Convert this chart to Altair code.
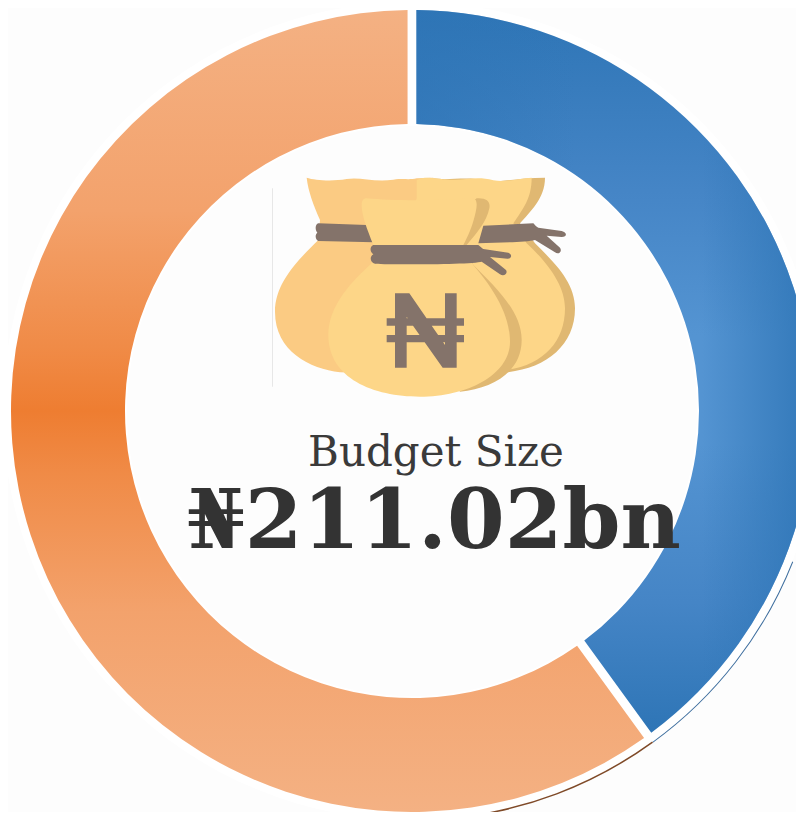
import math
import altair as alt
import pandas as pd

# --- values ---
segments = ["Blue share", "Orange share"]
starts = [0, 40]
ends = [40, 100]
edge_starts = [31, 40]      # thin offset edge lines
edge_ends = [40, 48.5]
title_text = ["Budget Size"]
amount_text = ["\u20a6211.02bn"]

CX, CY = 404, 403
R_OUT, R_IN = 401, 287
SERIF = "DejaVu Serif"

theta_scale = alt.Scale(domain=[0, 100], range=[0, 2 * math.pi])
seg = pd.DataFrame({"segment": segments, "start": starts, "end": ends})
edge = pd.DataFrame({"start": edge_starts, "end": edge_ends})
one = pd.DataFrame({"a": [0], "b": [100]})


def arc_enc(chart, a="start", b="end"):
    return chart.encode(
        x=alt.value(CX), y=alt.value(CY),
        theta=alt.Theta(f"{a}:Q", scale=theta_scale),
        theta2=alt.Theta2(f"{b}:Q"),
    )


blue_grad = alt.LinearGradient(
    gradient="linear", x1=0, x2=0, y1=0, y2=1,
    stops=[alt.GradientStop(color="#2e75b6", offset=0),
           alt.GradientStop(color="#4585c6", offset=0.25),
           alt.GradientStop(color="#5494d2", offset=0.45),
           alt.GradientStop(color="#5494d2", offset=0.6),
           alt.GradientStop(color="#4585c6", offset=0.82),
           alt.GradientStop(color="#2e75b6", offset=1)],
)
blue_side = alt.LinearGradient(
    gradient="linear", x1=0, x2=1, y1=0, y2=0,
    stops=[alt.GradientStop(color="rgba(46,117,182,0.6)", offset=0),
           alt.GradientStop(color="rgba(46,117,182,0)", offset=0.4),
           alt.GradientStop(color="rgba(46,117,182,0)", offset=0.72),
           alt.GradientStop(color="rgba(46,117,182,0.9)", offset=1)],
)
orange_grad = alt.LinearGradient(
    gradient="linear", x1=0, x2=0, y1=0, y2=1,
    stops=[alt.GradientStop(color="#f4b183", offset=0),
           alt.GradientStop(color="#f3a26c", offset=0.25),
           alt.GradientStop(color="#f08b47", offset=0.42),
           alt.GradientStop(color="#ee7d31", offset=0.5),
           alt.GradientStop(color="#f08b47", offset=0.58),
           alt.GradientStop(color="#f3a26c", offset=0.75),
           alt.GradientStop(color="#f4b183", offset=1)],
)

halo = arc_enc(alt.Chart(one).mark_arc(radius=409, radius2=R_IN - 2, color="#ffffff"), "a", "b")
edge_blue = arc_enc(alt.Chart(edge.iloc[[0]]).mark_arc(radius=410, radius2=409, color="#3f6f9f"))
edge_brown = arc_enc(alt.Chart(edge.iloc[[1]]).mark_arc(radius=410, radius2=408.5, color="#7f4a28"))
blue = arc_enc(alt.Chart(seg.iloc[[0]]).mark_arc(radius=R_OUT, radius2=R_IN, padAngle=0.018, fill=blue_grad))
blue_over = arc_enc(alt.Chart(seg.iloc[[0]]).mark_arc(radius=R_OUT, radius2=R_IN, padAngle=0.018, fill=blue_side))
orange = arc_enc(alt.Chart(seg.iloc[[1]]).mark_arc(radius=R_OUT, radius2=R_IN, padAngle=0.018, fill=orange_grad))

# --- money-bag icon: glyph outlines as custom point shapes ---
BAG_LIGHT, BAG_SIDE, BAG_LEFT, ROPE = "#fdd688", "#e0b872", "#fbcb83", "#84736a"
icon = [
    ("M36 70 L38 70 L38 665 L36 665 Z", "#dddddd"),
    ("M140 38 C165 46 215 50 260 42 C300 35 340 52 400 44 C430 40 450 45 470 40 L520 38 L520 630 "
     "L240 622 C150 610 45 560 45 440 C45 350 120 280 175 225 L180 165 C160 120 145 80 140 38 Z", BAG_LEFT),
    ("M520 40 C570 48 620 32 680 48 C720 52 780 38 855 38 C855 100 810 140 780 175 L825 235 "
     "C880 290 945 350 945 430 C945 540 860 610 740 622 L480 300 Z", BAG_SIDE),
    ("M470 45 C500 32 520 42 570 44 C620 46 650 32 700 46 C740 52 780 40 815 38 C815 100 790 130 760 175 "
     "L800 235 C860 290 915 360 915 430 C915 530 850 600 740 615 L400 400 L470 100 Z", BAG_LIGHT),
    ("M175 175 L320 180 L342 232 L175 228 C165 222 165 208 172 203 C165 195 165 178 175 175 Z", ROPE),
    ("M670 182 L820 175 C825 180 828 185 835 188 L905 198 C922 202 922 216 905 216 L860 212 L900 248 "
     "C908 260 895 270 885 262 L825 225 C800 232 720 232 655 235 Z", ROPE),
    ("M650 100 C680 98 692 110 688 130 C680 170 650 205 620 240 L640 300 C710 370 785 440 785 525 "
     "C785 620 700 670 600 680 L400 300 Z", BAG_SIDE),
    ("M320 100 C400 108 520 108 640 100 C655 105 650 130 645 150 C635 190 625 210 610 240 L640 300 "
     "C700 370 750 450 750 530 C750 630 620 695 480 695 C340 695 205 640 205 510 C205 420 280 345 335 295 "
     "L340 240 C320 190 305 150 305 120 C305 108 310 100 320 100 Z", BAG_LIGHT),
    ("M340 240 L655 240 C662 245 665 250 670 252 L745 263 C758 268 755 282 742 281 L690 276 L738 315 "
     "C745 328 730 335 720 328 L665 290 C640 298 400 300 345 296 C330 292 328 275 340 268 "
     "C330 262 328 245 340 240 Z", ROPE),
    ("M405 385 L448 385 L555 540 L555 385 L590 385 L590 608 L548 608 L440 455 L440 608 L405 608 Z "
     "M380 460 L612 460 L612 482 L380 482 Z M380 510 L612 510 L612 532 L380 532 Z", ROPE),
]
icon_layers = [
    alt.Chart(one).mark_point(shape=path, size=(2 / 3) ** 2 * 1.0, filled=True, color=colour,
                              opacity=1, strokeWidth=0).encode(x=alt.value(252), y=alt.value(157))
    for path, colour in icon
]

title = alt.Chart(pd.DataFrame({"t": title_text})).mark_text(
    font=SERIF, fontSize=42, color="#3a3a3a", align="center", baseline="alphabetic"
).encode(x=alt.value(428), y=alt.value(458), text="t:N")
amount = alt.Chart(pd.DataFrame({"t": amount_text})).mark_text(
    font=SERIF, fontSize=83, fontWeight="bold", color="#333333", align="center", baseline="alphabetic"
).encode(x=alt.value(426), y=alt.value(540), text="t:N")

chart = alt.layer(halo, edge_blue, edge_brown, blue, blue_over, orange, *icon_layers, title, amount).properties(
    width=788, height=804, padding=0, background="#fdfdfd",
    autosize=alt.AutoSizeParams(type="none", contains="padding"),
).configure_view(stroke=None)

chart.save("out.html", embed_options={"renderer": "svg", "actions": False})
